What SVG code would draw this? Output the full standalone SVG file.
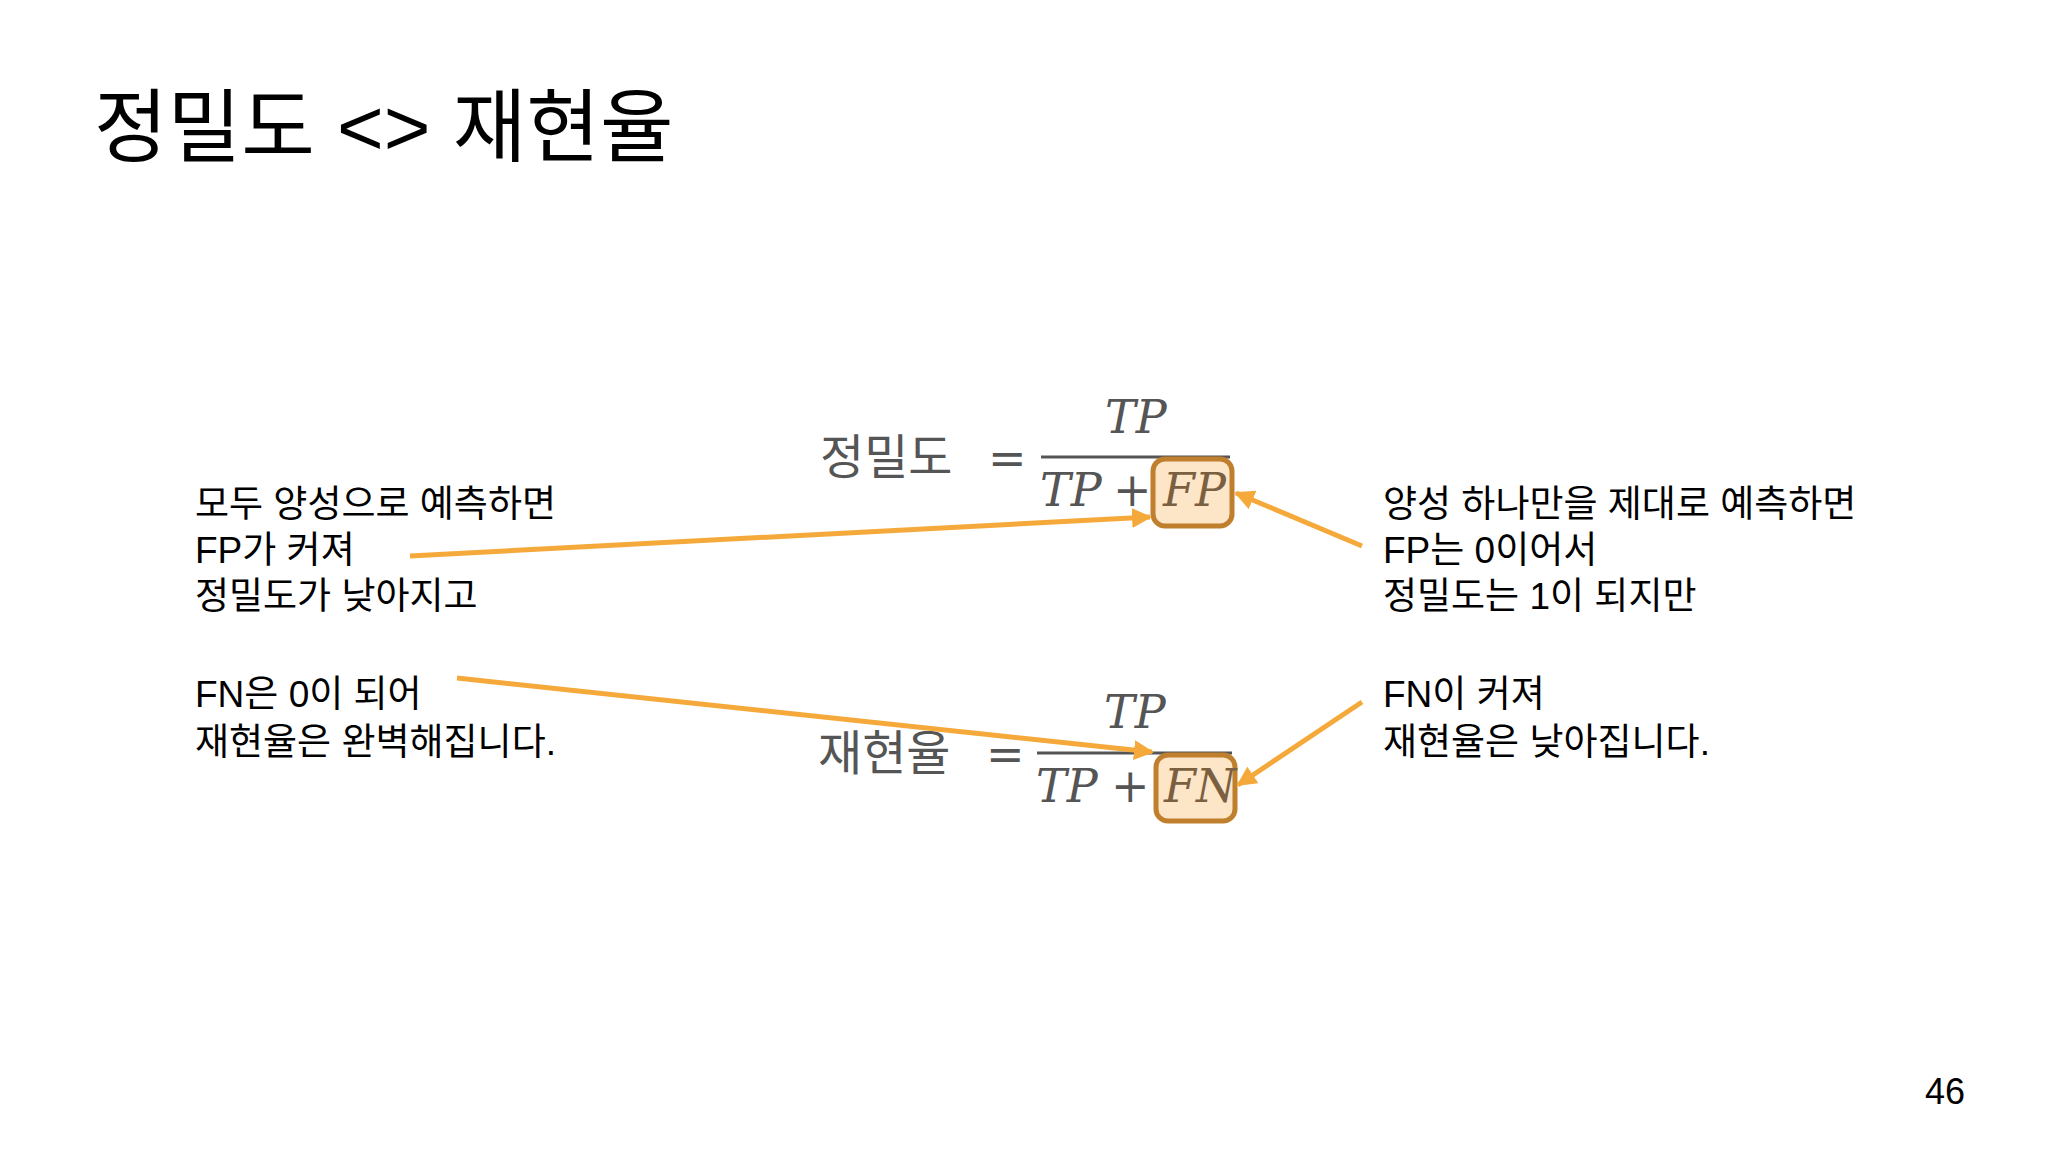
<svg xmlns="http://www.w3.org/2000/svg" width="2048" height="1152" viewBox="0 0 2048 1152">
<style>
.t{font-family:"Liberation Sans","Noto Sans CJK KR",sans-serif;font-size:37px;fill:#000}
.f{font-family:"Noto Sans CJK KR",sans-serif;font-size:48px;fill:#555}
.m{font-family:"DejaVu Serif","Liberation Serif",serif;font-style:italic;font-size:46px;fill:#555}
.mr{font-family:"DejaVu Serif","Liberation Serif",serif;font-size:46px;fill:#555}
.box{fill:#fde5c8;stroke:#c07f2c;stroke-width:5}
.ar{stroke:#f6a93b;stroke-width:5;fill:none;marker-end:url(#ah)}
</style>
<defs><marker id="ah" viewBox="0 0 10 10" refX="9" refY="5" markerWidth="4" markerHeight="4" orient="auto" markerUnits="strokeWidth"><path d="M0,0L10,5L0,10z" fill="#f6a93b"/></marker></defs>
<rect width="2048" height="1152" fill="#fff"/>
<text x="94" y="155" style="font-family:'Liberation Sans','Noto Sans CJK KR',sans-serif;font-size:80px">정밀도 &lt;&gt; 재현율</text>
<g id="precision">
<text class="f" x="820" y="474">정밀도</text>
<text class="mr" x="988" y="474">=</text>
<text class="m" x="1105" y="433">TP</text>
<line x1="1041" y1="457" x2="1230" y2="457" stroke="#555" stroke-width="3"/>
<text class="m" x="1040" y="506">TP</text>
<text class="mr" x="1113" y="506">+</text>
<rect class="box" x="1153" y="459" width="79" height="67" rx="12"/>
<text class="m" x="1163" y="506" style="fill:#7a6040">FP</text>
</g>
<g id="recall">
<text class="f" x="818" y="770">재현율</text>
<text class="mr" x="986" y="770">=</text>
<text class="m" x="1104" y="728">TP</text>
<line x1="1037" y1="753" x2="1232" y2="753" stroke="#555" stroke-width="3"/>
<text class="m" x="1036" y="802">TP</text>
<text class="mr" x="1111" y="802">+</text>
<rect class="box" x="1156" y="755" width="79" height="66" rx="12"/>
<text class="m" x="1164" y="802" style="fill:#7a6040">FN</text>
</g>
<g id="note-left-top"><text class="t" x="195" y="517">모두 양성으로 예측하면</text><text class="t" x="195" y="563">FP가 커져</text><text class="t" x="195" y="609">정밀도가 낮아지고</text></g>
<g id="note-left-bottom"><text class="t" x="195" y="707">FN은 0이 되어</text><text class="t" x="195" y="755">재현율은 완벽해집니다.</text></g>
<g id="note-right-top"><text class="t" x="1383" y="517">양성 하나만을 제대로 예측하면</text><text class="t" x="1383" y="563">FP는 0이어서</text><text class="t" x="1383" y="609">정밀도는 1이 되지만</text></g>
<g id="note-right-bottom"><text class="t" x="1383" y="707">FN이 커져</text><text class="t" x="1383" y="755">재현율은 낮아집니다.</text></g>
<text x="1965" y="1104" text-anchor="end" style="font-family:'Liberation Sans',sans-serif;font-size:36px">46</text>
<g id="connectors">
<line class="ar" x1="410" y1="556" x2="1150" y2="517"/>
<line class="ar" x1="1362" y1="546" x2="1236" y2="493"/>
<line class="ar" x1="457" y1="678" x2="1152" y2="752"/>
<line class="ar" x1="1362" y1="702" x2="1238" y2="785"/>
</g>
</svg>
